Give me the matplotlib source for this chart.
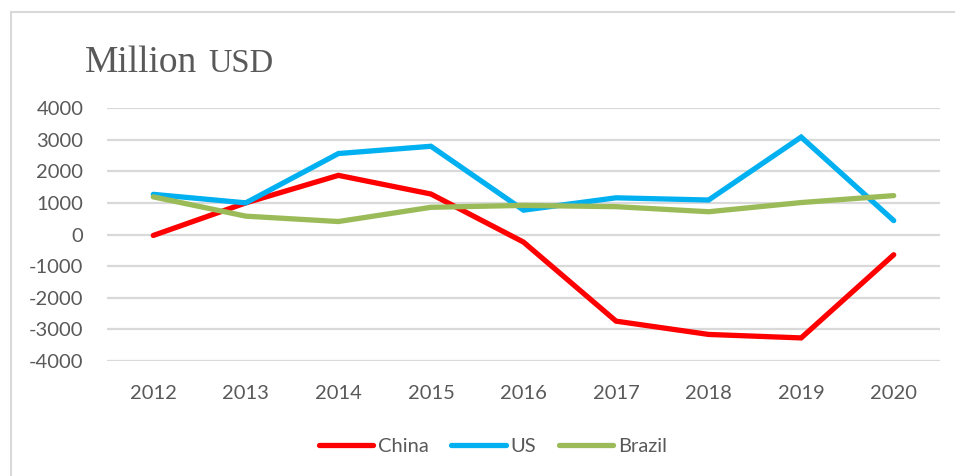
import matplotlib
matplotlib.use("Agg")
import matplotlib.pyplot as plt
from matplotlib.patches import Rectangle

years = ["2012", "2013", "2014", "2015", "2016", "2017", "2018", "2019", "2020"]
china = [-30, 1000, 1870, 1280, -240, -2740, -3160, -3270, -640]
us = [1270, 1000, 2560, 2790, 770, 1160, 1090, 3080, 440]
brazil = [1190, 580, 410, 860, 920, 880, 720, 1010, 1230]
series_names = ["China", "US", "Brazil"]
yticks = [4000, 3000, 2000, 1000, 0, -1000, -2000, -3000, -4000]

W, H = 955, 476
fig = plt.figure(figsize=(W / 100, H / 100), dpi=100)
fig.patch.set_facecolor("white")

# chart border
fig.add_artist(Rectangle((11 / W, -0.05), 1.1, 1 - 12 / H + 0.05, transform=fig.transFigure,
                         fill=False, edgecolor="#D9D9D9", linewidth=1.5))

left, right = 107 / W, 940 / W
top, bottom = 1 - 108 / H, 1 - 361 / H
ax = fig.add_axes([left, bottom, right - left, top - bottom])

x = list(range(len(years)))
colors = ["#FF0000", "#00B0F0", "#9BBB59"]
for vals, name, c in zip([china, us, brazil], series_names, colors):
    ax.plot(x, vals, color=c, linewidth=3.8, solid_capstyle="round",
            solid_joinstyle="miter", label=name, zorder=3)

ax.set_xlim(-0.5, len(years) - 0.5)
ax.set_ylim(-4000, 4000)
ax.set_yticks(yticks)
ax.set_yticklabels([str(v) for v in yticks])
ax.set_xticks(x)
ax.set_xticklabels(years)
ax.grid(axis="y", color="#D9D9D9", linewidth=1.6, zorder=0)
ax.set_axisbelow(True)
for s in ax.spines.values():
    s.set_visible(False)
ax.tick_params(axis="both", length=0, labelcolor="#595959", labelsize=14.5)
ax.tick_params(axis="y", pad=17)
ax.tick_params(axis="x", pad=17)
for lab in ax.get_xticklabels() + ax.get_yticklabels():
    lab.set_fontfamily("Lato")

leg = fig.legend(loc="center", bbox_to_anchor=(493 / W, 1 - 446 / H), ncol=3,
                 frameon=False, handlelength=2.7, handletextpad=0.25,
                 columnspacing=1.1, prop={"family": "Lato", "size": 14.5})
for t in leg.get_texts():
    t.set_color("#595959")

t1 = fig.text(85 / W, 1 - 72 / H, "Million", fontfamily="Liberation Serif", fontsize=27,
              color="#595959", va="baseline", ha="left")
fig.canvas.draw()
bb = t1.get_window_extent()
fig.text((bb.x1 + 11) / W, 1 - 72 / H, "USD", fontfamily="Liberation Serif", fontsize=23.5,
         color="#595959", va="baseline", ha="left")

fig.savefig("out.png", dpi=100, facecolor="white")
